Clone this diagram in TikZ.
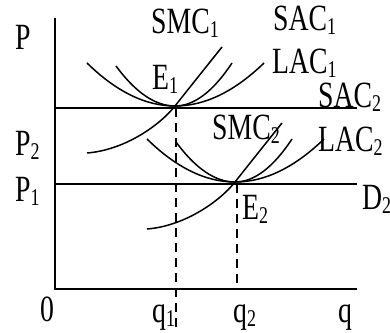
\documentclass[tikz,border=0pt]{standalone}
\usepackage{fontspec}
\setmainfont{Liberation Serif}[FakeStretch=0.75]
\newcommand\sbs[1]{\raisebox{-4pt}{\fontsize{24}{24}\selectfont #1}}
\tikzset{
  curve/.style={line width=1.5pt},
  axisline/.style={line width=1.8pt},
  guide/.style={line width=1.4pt, dash pattern=on 9pt off 6pt},
  lbl/.style={anchor=base west, inner sep=0pt, font=\fontsize{37}{40}\selectfont},
}
\begin{document}
\begin{tikzpicture}[x=1pt, y=-1pt]
\useasboundingbox (0,0) rectangle (390,332);
% axes
\coordinate (O) at (55,289);
\coordinate (Ytop) at (55,18);
\coordinate (Xend) at (357,289);
\draw[axisline] (Ytop) -- (O) -- (Xend);
% price lines
\coordinate (L1a) at (55,108); \coordinate (L1b) at (357,108);
\coordinate (L2a) at (55,184); \coordinate (L2b) at (357,184);
\draw[axisline] (L1a) -- (L1b);
\draw[axisline] (L2a) -- (L2b);
% cost curve groups
\foreach \dx/\dy/\nm in {175/106/E1, 235/182/E2}{
\begin{scope}[shift={(\dx,\dy)}]
  \coordinate (\nm) at (0,0);
  \draw[curve] (-88,-43) .. controls (-58.7,-14.3) and (-29.3,0) .. (0,0)
               .. controls (29.7,0) and (59.3,-14.3) .. (89,-43);
  \draw[curve] (-59,-40) .. controls (-39.3,-13.3) and (-19.7,0) .. (0,0)
               .. controls (19,0) and (38,-14.3) .. (57,-43);
  \draw[curve] (-88,47) .. controls (-50,44) and (-15,19) .. (0,0)
               .. controls (15,-19) and (31,-39) .. (47,-59);
\end{scope}
}
% guides
\coordinate (Q1) at (176,328);
\coordinate (Q2) at (237,289);
\draw[guide] (176,108) -- (Q1);
\draw[guide] (237,184) -- (Q2);
% labels
\node[lbl] (lP)   at (15,49)  {P};
\node[lbl] (lSMC1) at (151,33) {SMC\sbs{1}};
\node[lbl] (lSAC1) at (273,30) {SAC\sbs{1}};
\node[lbl] (lLAC1) at (272,73) {LAC\sbs{1}};
\node[lbl] (lSAC2) at (318,107) {SAC\sbs{2}};
\node[lbl] (lSMC2) at (212,139) {SMC\sbs{2}};
\node[lbl] (lLAC2) at (318,151) {LAC\sbs{2}};
\node[lbl] (lE1)  at (152,89) {E\sbs{1}};
\node[lbl] (lP2)  at (15,155) {P\sbs{2}};
\node[lbl] (lE2)  at (242,219) {E\sbs{2}};
\node[lbl] (lP1)  at (15,201) {P\sbs{1}};
\node[lbl] (lD2)  at (362,209) {D\sbs{2}};
\node[lbl] (l0)   at (40,321) {0};
\node[lbl] (lq1)  at (152,322) {q\sbs{1}};
\node[lbl] (lq2)  at (233,322) {q\sbs{2}};
\node[lbl] (lq)   at (338,322) {q};
\end{tikzpicture}
\end{document}
